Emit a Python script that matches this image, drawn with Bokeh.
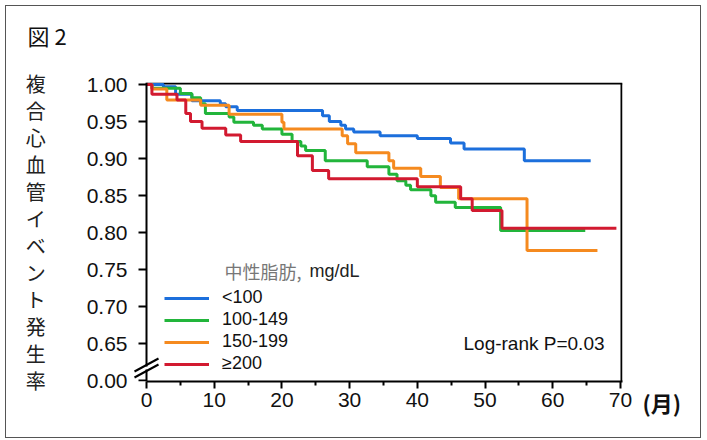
from bokeh.plotting import figure
from bokeh.models import (FixedTicker, Label, Arrow, Legend, LegendItem, Range1d,
                          LinearAxis)
from bokeh.embed import file_html
from bokeh.resources import INLINE

# ---------------- data ----------------
groups = ["<100", "100-149", "150-199", "≥200"]
colors = ["#1c6fdc", "#22b53b", "#f58a1f", "#d21a30"]

t_lt100 = [0, 2.5, 4.3, 6.7, 10.9, 11.7, 13.4, 26.0, 27.0, 28.7, 29.4, 30.6, 34.5, 40.0, 44.9, 46.9, 55.8, 65.6]
s_lt100 = [1.0, 0.997, 0.987, 0.978, 0.974, 0.970, 0.965, 0.958, 0.950, 0.945, 0.940, 0.936, 0.931, 0.927, 0.921, 0.913, 0.897, 0.897]

t_100 = [0, 0.8, 5.0, 6.7, 8.0, 8.7, 12.2, 12.9, 15.8, 17.1, 20.0, 21.5, 22.8, 23.5, 26.4, 32.6, 35.8, 37.0, 38.3, 39.0, 42.0, 42.7, 45.6, 52.3, 64.8]
s_100 = [1.0, 0.995, 0.988, 0.982, 0.974, 0.961, 0.956, 0.949, 0.945, 0.940, 0.933, 0.923, 0.917, 0.911, 0.897, 0.889, 0.879, 0.870, 0.864, 0.858, 0.850, 0.841, 0.834, 0.803, 0.803]

t_150 = [0, 0.8, 3.0, 8.0, 12.2, 20.0, 20.3, 28.9, 29.7, 30.9, 35.8, 36.5, 40.5, 43.4, 46.1, 56.2, 66.6]
s_150 = [1.0, 0.994, 0.979, 0.972, 0.960, 0.949, 0.940, 0.931, 0.920, 0.908, 0.897, 0.887, 0.876, 0.861, 0.846, 0.776, 0.776]

t_200 = [0, 0.8, 4.5, 5.8, 6.5, 8.2, 11.7, 13.9, 22.3, 24.5, 26.9, 40.0, 46.4, 48.1, 52.5, 69.4]
s_200 = [1.0, 0.987, 0.979, 0.961, 0.950, 0.941, 0.932, 0.923, 0.904, 0.884, 0.873, 0.862, 0.846, 0.830, 0.806, 0.806]

x_ticks = [0, 10, 20, 30, 40, 50, 60, 70]
x_minor = [5, 15, 25, 35, 45, 55, 65]
y_ticks = [0.60, 0.65, 0.70, 0.75, 0.80, 0.85, 0.90, 0.95, 1.00]
y_labels = ["0.00", "0.65", "0.70", "0.75", "0.80", "0.85", "0.90", "0.95", "1.00"]

title_text = "図 2"
y_title = "複合心血管イベント発生率"
x_unit = "(月)"
legend_title_jp = "中性脂肪,"
legend_title_unit = "mg/dL"
stat_text = "Log-rank P=0.03"

# ---------------- layout (screen px) ----------------
OFF = 6                                  # margin (5) + border (1)
W, H = 696, 433
FLs, FRs, FTs, FBs = 129, 622, 82, 381   # frame edges on screen
AX0 = 146                                # screen x of month 0
X1 = 70.3
PX = (FRs - AX0) / X1
X0 = -(AX0 - FLs) / PX
Y0, Y1 = 0.5993, 1.0027
PY = (FBs - FTs) / (Y1 - Y0)


def dx(sx):
    return X0 + (sx - FLs) / PX


def dy(sy):
    return Y1 - (sy - FTs) / PY


FONT = "Liberation Sans"
JP = "Noto Sans CJK JP"

p = figure(width=W, height=H, x_range=Range1d(X0, X1), y_range=Range1d(Y0, Y1),
           output_backend="svg", toolbar_location=None, title=title_text + "\n",
           y_axis_location=None,
           min_border_left=FLs - OFF, min_border_right=W - (FRs - OFF),
           min_border_top=FTs - OFF, min_border_bottom=H - (FBs - OFF))
p.styles = {"margin-left": "5px", "margin-top": "5px", "border": "1px solid #555"}
p.grid.visible = False
p.outline_line_color = None
p.background_fill_color = "white"

# title (trailing empty line lifts it above the frame)
p.title.align = "left"
p.title.offset = 27 - FLs
p.title.standoff = 0
p.title.text_line_height = 1.0
p.title.text_font = JP
p.title.text_font_size = "22px"
p.title.text_font_style = "normal"
p.title.text_color = "#111"

# x axis
xax = p.xaxis[0]
xax.ticker = FixedTicker(ticks=x_ticks, minor_ticks=x_minor)
xax.bounds = (0, X1)
xax.axis_line_width = 2
xax.axis_line_color = "black"
xax.major_tick_line_width = 2
xax.major_tick_out = 7
xax.major_tick_in = 0
xax.minor_tick_line_width = 2
xax.minor_tick_out = 4
xax.minor_tick_in = 0
xax.major_label_text_font = FONT
xax.major_label_text_font_size = "21px"
xax.major_label_text_color = "#111"
xax.major_label_standoff = 4

# y axis labels (at frame edge) + y title
lab_axis = LinearAxis(ticker=FixedTicker(ticks=y_ticks),
                      major_label_overrides={v: s for v, s in zip(y_ticks, y_labels)})
lab_axis.axis_line_color = None
lab_axis.major_tick_line_color = None
lab_axis.minor_tick_line_color = None
lab_axis.major_tick_out = 0
lab_axis.major_tick_in = 0
lab_axis.major_label_standoff = 2
lab_axis.major_label_text_font = FONT
lab_axis.major_label_text_font_size = "21px"
lab_axis.major_label_text_color = "#111"
lab_axis.axis_label = "\n".join(y_title)
lab_axis.axis_label_text_font = JP
lab_axis.axis_label_text_font_size = "20px"
lab_axis.axis_label_text_font_style = "normal"
lab_axis.axis_label_text_color = "#222"
lab_axis.axis_label_standoff = 38
lab_axis.axis_label_text_line_height = 0.93
if "axis_label_orientation" in lab_axis.properties():
    lab_axis.axis_label_orientation = "horizontal"
p.add_layout(lab_axis, "left")

# y axis line and ticks at month 0
tick_axis = LinearAxis(ticker=FixedTicker(ticks=y_ticks), fixed_location=0,
                       major_label_overrides={v: "" for v in y_ticks})
tick_axis.axis_line_width = 2
tick_axis.axis_line_color = "black"
tick_axis.major_tick_line_width = 2
tick_axis.major_tick_out = 8
tick_axis.major_tick_in = 0
tick_axis.minor_tick_line_color = None
tick_axis.major_label_standoff = 0
tick_axis.major_label_text_font_size = "1px"
p.add_layout(tick_axis, "left")

# unit of x axis shown at the right of the last tick
unit_axis = LinearAxis(ticker=FixedTicker(ticks=[0.6]),
                       major_label_overrides={0.6: "\n" + x_unit})
unit_axis.axis_line_color = None
unit_axis.major_tick_line_color = None
unit_axis.minor_tick_line_color = None
unit_axis.major_tick_out = 0
unit_axis.major_label_standoff = 20
unit_axis.major_label_text_font = JP
unit_axis.major_label_text_font_size = "22px"
unit_axis.major_label_text_font_style = "bold"
unit_axis.major_label_text_color = "#111"
unit_axis.major_label_text_line_height = 1.3
p.add_layout(unit_axis, "right")

# frame top and right edges
yt = Y1 - 1.0 / PY
xr = X1 - 1.0 / PX
p.segment(x0=[0, xr], y0=[yt, Y0], x1=[X1, xr], y1=[yt, yt], line_color="black", line_width=2)

series = [(t_lt100, s_lt100), (t_100, s_100), (t_150, s_150), (t_200, s_200)]
items = []
for (t, s), c, g in zip(series, colors, groups):
    r = p.step(t, s, mode="after", line_color=c, line_width=3)
    items.append(LegendItem(label=g, renderers=[r]))

legend = Legend(items=items, location=(35, 7))
legend.background_fill_alpha = 0
legend.border_line_alpha = 0
legend.padding = 0
legend.margin = 0
legend.spacing = 1
legend.glyph_width = 45
legend.glyph_height = 18
legend.label_height = 18
legend.label_standoff = 13
legend.label_text_font = FONT
legend.label_text_font_size = "18px"
legend.label_text_color = "#111"
p.add_layout(legend)

# legend title
p.add_layout(Label(x=dx(224), y=dy(270), text=legend_title_jp, text_font=JP,
                   text_font_size="18px", text_color="#777", text_baseline="middle"))
p.add_layout(Label(x=dx(309), y=dy(270), text=legend_title_unit, text_font=FONT,
                   text_font_size="18px", text_color="#222", text_baseline="middle"))

# statistics
p.add_layout(Label(x=dx(463), y=dy(343), text=stat_text, text_font=FONT,
                   text_font_size="19px", text_color="#111", text_baseline="middle"))

# axis break marks
p.add_layout(Arrow(end=None, x_start=0, y_start=dy(366), x_end=0, y_end=dy(369),
                   line_color="white", line_width=6))
for off in (0, 6):
    p.add_layout(Arrow(end=None, x_start=dx(134), y_start=dy(371 + off),
                       x_end=dx(158), y_end=dy(358 + off),
                       line_color="black", line_width=2))

open("out.html", "w").write(file_html(p, INLINE))
